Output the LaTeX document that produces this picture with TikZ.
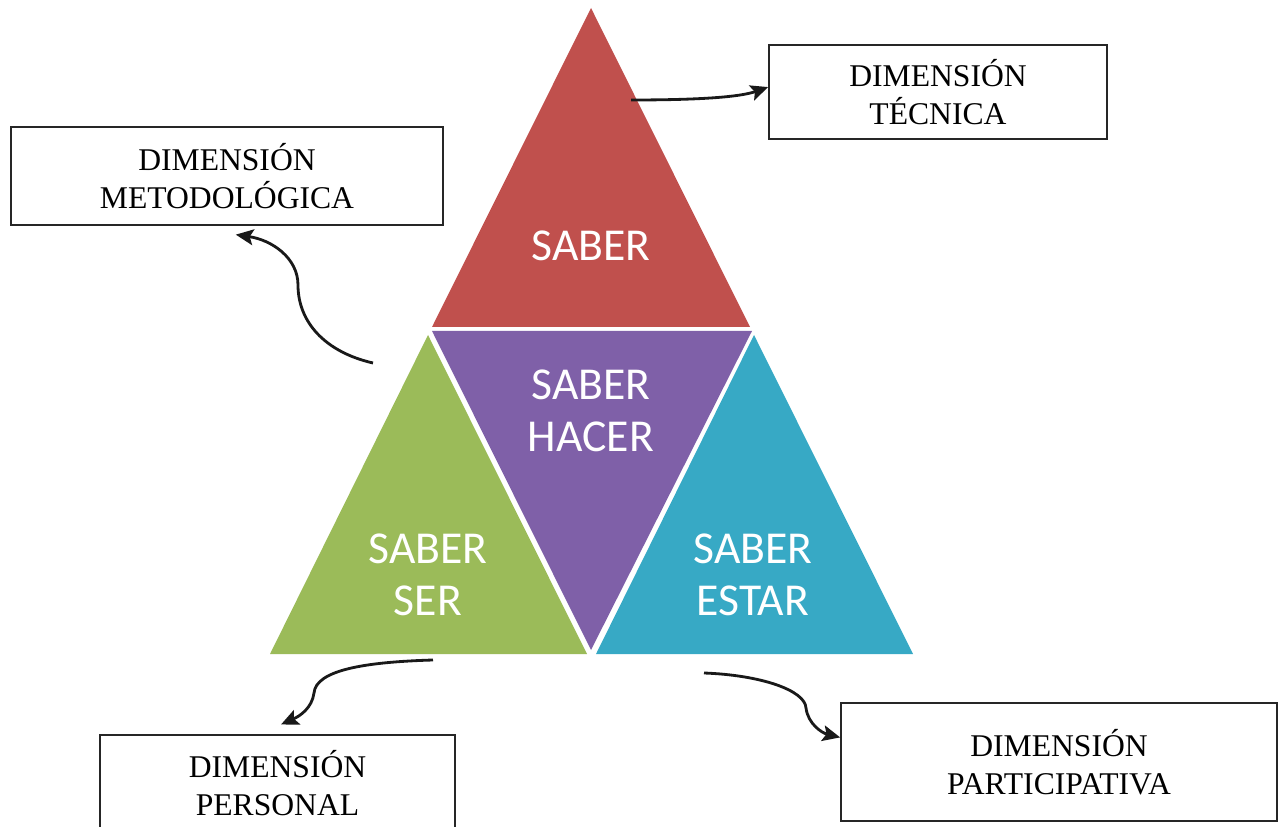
\documentclass[tikz,border=0pt]{standalone}
\usepackage{fontspec}
\setmainfont{Liberation Serif}
\newfontfamily\calibrifont{Carlito}
\usetikzlibrary{arrows.meta}

\definecolor{saberred}{HTML}{C0504D}
\definecolor{saberpurple}{HTML}{7F60A8}
\definecolor{sabergreen}{HTML}{9BBB59}
\definecolor{sabercyan}{HTML}{37A9C5}

\begin{document}
\begin{tikzpicture}[
  x=0.02cm, y=-0.02cm,
  lbl/.style={text=white, align=center,
              font=\calibrifont\fontsize{26}{29.5}\selectfont},
  dimbox/.style={draw=black!85, line width=1pt, fill=white, align=center,
                 inner sep=0pt, font=\fontsize{18}{21.3}\selectfont},
  arr/.style={-{Stealth[length=10pt, width=9pt, inset=2pt]}, line width=1.6pt, draw=black!90}
]
\path[use as bounding box, clip] (0,0) rectangle (1281,827);

%% ---- PYRAMID ----
\fill[saberred]    (591,8)   -- (750,327) -- (432,327) -- cycle;
\fill[saberpurple] (432,331) -- (752,331) -- (591,650) -- cycle;
\fill[sabergreen]  (428,335) -- (587,654) -- (270,654) -- cycle;
\fill[sabercyan]   (754,335) -- (913,654) -- (596,654) -- cycle;

\node[lbl] (saber) at (591,246) {SABER};
\node[lbl] (hacer) at (591,411) {SABER\\HACER};
\node[lbl] (ser)   at (428,575) {SABER\\SER};
\node[lbl] (estar) at (753,575) {SABER\\ESTAR};

%% ---- DIMENSIONS ----
\node[dimbox, minimum width=6.76cm, minimum height=1.88cm] (tec) at (938,92)
     {DIMENSIÓN\\TÉCNICA};
\node[dimbox, minimum width=8.64cm, minimum height=1.96cm] (met) at (227,176)
     {DIMENSIÓN\\METODOLÓGICA};
\node[dimbox, minimum width=7.10cm, minimum height=1.92cm] (per) at (277.5,783)
     {DIMENSIÓN\\PERSONAL};
\node[dimbox, minimum width=8.72cm, minimum height=2.36cm] (par) at (1059,762)
     {DIMENSIÓN\\PARTICIPATIVA};

%% ---- ARROWS ----
\coordinate (tecstart) at (631,100);
\coordinate (metstart) at (373,363);
\coordinate (perstart) at (433,660);
\coordinate (parstart) at (704,673);

\draw[arr] (tecstart) .. controls (700,100) and (740,97) .. ([yshift=2.8pt]tec.west);
\draw[arr] (metstart) .. controls (325,352) and (298,322) .. (298,285)
                      .. controls (298,258) and (272,240) .. ([xshift=5pt,yshift=-5pt]met.south);
\draw[arr] (perstart) .. controls (365,662) and (316,670) .. (314,693)
                      .. controls (312,708) and (300,716) .. ([xshift=2pt,yshift=5.5pt]per.north);
\draw[arr] (parstart) .. controls (760,675) and (805,690) .. (806,708)
                      .. controls (808,724) and (822,733) .. ([yshift=14pt]par.west);

\end{tikzpicture}
\end{document}
